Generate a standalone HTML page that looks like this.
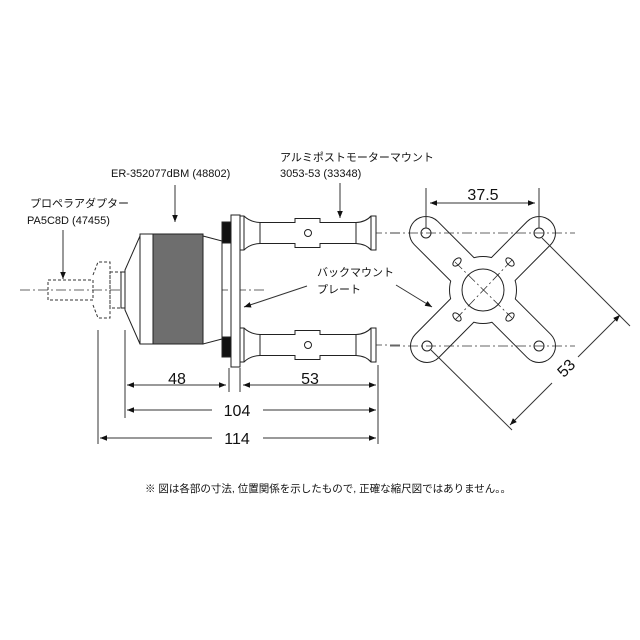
<!DOCTYPE html>
<html><head><meta charset="utf-8"><style>
body{margin:0;background:#fff}
svg{display:block}
text{font-family:"Liberation Sans","Noto Sans CJK JP",sans-serif;fill:#111}
</style></head><body>
<svg width="640" height="640" viewBox="0 0 640 640" xmlns="http://www.w3.org/2000/svg">
<defs>
<marker id="a" viewBox="0 0 10 10" refX="10" refY="5" markerWidth="7" markerHeight="7" orient="auto-start-reverse"><path d="M0,1 L10,5 L0,9 z" fill="#111"/></marker>
<g id="so" stroke="#222" stroke-width="1" fill="#fff">
<path d="M240,-17 L244,-17 Q250,-11 260,-10.5 L295,-10.5 L295,-14.5 L320,-14.5 L320,-10.5 L356,-10.5 Q366,-11 371,-17 L376,-17 L376,17 L371,17 Q366,11 356,10.5 L320,10.5 L320,14.5 L295,14.5 L295,10.5 L260,10.5 Q250,11 244,17 L240,17 Z"/>
<line x1="244" y1="-17" x2="244" y2="17"/><line x1="371" y1="-17" x2="371" y2="17"/>
<line x1="260" y1="-10.5" x2="260" y2="10.5"/><line x1="356" y1="-10.5" x2="356" y2="10.5"/>
<circle cx="308" cy="0" r="3.5"/>
</g>
</defs>
<g fill="none" stroke-linecap="round">
<g stroke="#222" stroke-width="34"><line x1="426" y1="233" x2="539" y2="346"/><line x1="539" y1="233" x2="427" y2="346"/></g>
<circle cx="483" cy="290" r="34" fill="#222"/>
<g stroke="#fff" stroke-width="32"><line x1="426" y1="233" x2="539" y2="346"/><line x1="539" y1="233" x2="427" y2="346"/></g>
<circle cx="483" cy="290" r="33" fill="#fff"/>
</g>
<g stroke="#333" stroke-width="0.8" stroke-dasharray="10,3,2,3" fill="none">
<line x1="20" y1="290" x2="265" y2="290"/>
<line x1="228" y1="233" x2="400" y2="233"/><line x1="228" y1="345" x2="400" y2="345"/>
<line x1="390" y1="233" x2="575" y2="233"/><line x1="390" y1="346" x2="575" y2="346"/>
<line x1="455" y1="262" x2="512" y2="318"/><line x1="512" y1="260" x2="455" y2="320"/>
</g>
<g stroke="#333" stroke-width="1" stroke-dasharray="3,2" fill="none">
<rect x="48" y="280" width="45" height="20"/>
<path d="M93,275 L98,262 L110,262 L110,318 L98,318 L93,305"/>
<rect x="110" y="272" width="12" height="36"/>
</g>
<g stroke="#222" stroke-width="1" fill="#fff">
<rect x="121" y="272" width="4" height="36"/>
<path d="M125,270 L140,236 L140,344 L125,310 Z"/>
<rect x="140" y="234" width="13" height="110"/>
<rect x="153" y="234" width="50" height="110" fill="#6e6e6e"/>
<path d="M203,236 L222,241 L222,339 L203,344 Z"/>
<rect x="222" y="222" width="9" height="21" fill="#111"/>
<rect x="222" y="337" width="9" height="20" fill="#111"/>
<rect x="231" y="215" width="9" height="152"/>
</g>
<use href="#so" transform="translate(0,233)"/>
<use href="#so" transform="translate(0,345)"/>
<g stroke="#222" stroke-width="1" fill="none">
<circle cx="483" cy="290" r="21"/>
<circle cx="426" cy="233" r="5"/><circle cx="539" cy="233" r="5"/>
<circle cx="427" cy="346" r="5"/><circle cx="539" cy="346" r="5"/>
<ellipse cx="457" cy="262" rx="3" ry="5" transform="rotate(45 457 262)"/>
<ellipse cx="510" cy="262" rx="3" ry="5" transform="rotate(-45 510 262)"/>
<ellipse cx="457" cy="317" rx="3" ry="5" transform="rotate(-45 457 317)"/>
<ellipse cx="510" cy="317" rx="3" ry="5" transform="rotate(45 510 317)"/>
<g stroke="#333" stroke-width="1">
<line x1="426" y1="188" x2="426" y2="228"/><line x1="539" y1="188" x2="539" y2="228"/>
<line x1="430" y1="203" x2="535" y2="203" marker-start="url(#a)" marker-end="url(#a)"/>
<line x1="542" y1="238" x2="630" y2="326"/><line x1="431" y1="350" x2="512" y2="430"/>
<line x1="620" y1="315" x2="578" y2="357" marker-start="url(#a)"/>
<line x1="552" y1="383" x2="510" y2="425" marker-end="url(#a)"/>
<line x1="396" y1="285" x2="432" y2="307" marker-end="url(#a)"/>
<line x1="125" y1="330" x2="125" y2="418"/><line x1="98" y1="330" x2="98" y2="444"/>
<line x1="229" y1="368" x2="229" y2="392"/><line x1="240" y1="368" x2="240" y2="392"/>
<line x1="378" y1="365" x2="378" y2="444"/>
<line x1="127" y1="385" x2="226" y2="385" marker-start="url(#a)" marker-end="url(#a)"/>
<line x1="243" y1="385" x2="376" y2="385" marker-start="url(#a)" marker-end="url(#a)"/>
<line x1="127" y1="410" x2="212" y2="410" marker-start="url(#a)"/>
<line x1="263" y1="410" x2="376" y2="410" marker-end="url(#a)"/>
<line x1="100" y1="438" x2="212" y2="438" marker-start="url(#a)"/>
<line x1="263" y1="438" x2="376" y2="438" marker-end="url(#a)"/>
<line x1="63" y1="230" x2="63" y2="279" marker-end="url(#a)"/>
<line x1="175" y1="185" x2="175" y2="222" marker-end="url(#a)"/>
<line x1="340" y1="183" x2="340" y2="218" marker-end="url(#a)"/>
<line x1="307" y1="286" x2="244" y2="307" marker-end="url(#a)"/>
</g>
</g>
<g font-size="16" text-anchor="middle">
<text x="177" y="384">48</text><text x="310" y="384">53</text>
<text x="237" y="416">104</text><text x="237" y="444">114</text>
<text x="483" y="200">37.5</text>
<text x="0" y="0" transform="translate(570,372) rotate(-45)">53</text>
</g>
<g font-size="11">
<text x="30" y="207">プロペラアダプター</text>
<text x="27" y="224">PA5C8D (47455)</text>
<text x="111" y="177">ER-352077dBM (48802)</text>
<text x="280" y="161">アルミポストモーターマウント</text>
<text x="280" y="177">3053-53 (33348)</text>
<text x="317" y="276">バックマウント</text>
<text x="317" y="293">プレート</text>
<text x="145" y="492" font-size="10.5">※ 図は各部の寸法, 位置関係を示したもので, 正確な縮尺図ではありません。。</text>
</g>
</svg>
</body></html>
